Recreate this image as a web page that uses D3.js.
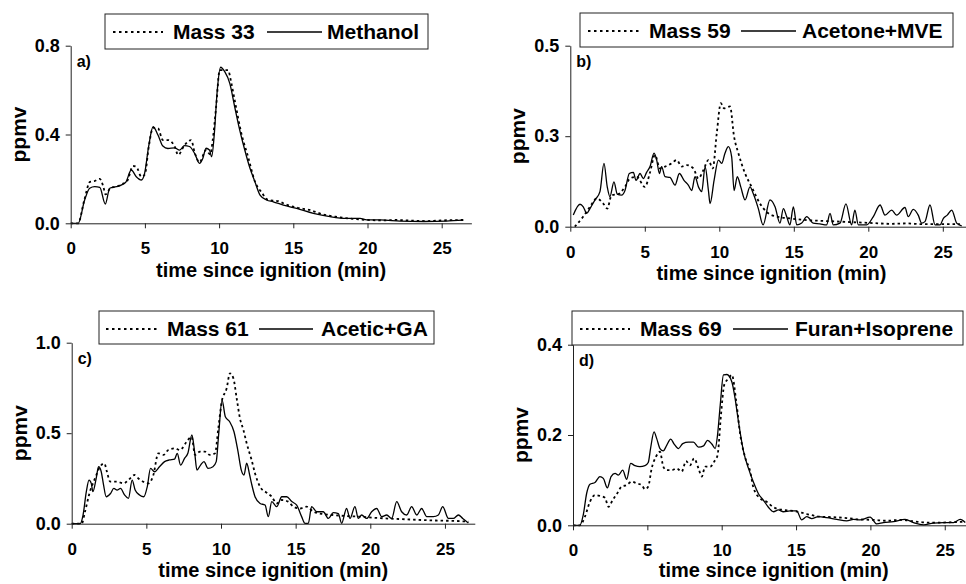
<!DOCTYPE html>
<html>
<head>
<meta charset="utf-8">
<script src="https://d3js.org/d3.v7.min.js"></script>
<style>
body{margin:0;background:#fff;}
text{font-family:"Liberation Sans",Arial,Helvetica,sans-serif;font-weight:bold;fill:#000;}
</style>
</head>
<body>
<svg id="chart" width="966" height="584"></svg>
<script>
// x = time since ignition (min), y = ppmv
var xTickValues = [0,5,10,15,20,25];
var xTickLabels = ["0","5","10","15","20","25"];

var yTicksA = [0,0.4,0.8],  yLabelsA = ["0.0","0.4","0.8"];
var yTicksB = [0,0.25,0.5], yLabelsB = ["0.0","0.3","0.5"];
var yTicksC = [0,0.5,1.0],  yLabelsC = ["0.0","0.5","1.0"];
var yTicksD = [0,0.2,0.4],  yLabelsD = ["0.0","0.2","0.4"];

// a) methanol
var methanol = [[0,0],[0.5,0],[0.94,0.105],[1.28,0.158],[1.62,0.165],[1.96,0.162],[2.33,0.087],[2.63,0.158],[3.07,0.165],[3.4,0.172],[3.73,0.187],[4.08,0.24],[4.42,0.21],[4.76,0.195],[4.98,0.225],[5.25,0.345],[5.55,0.435],[5.88,0.398],[6.21,0.348],[6.55,0.337],[7.0,0.34],[7.34,0.33],[7.67,0.35],[8.0,0.346],[8.35,0.315],[8.68,0.27],[8.9,0.292],[9.12,0.338],[9.35,0.33],[9.5,0.3],[9.68,0.405],[9.86,0.586],[10.1,0.703],[10.38,0.683],[10.72,0.63],[11.05,0.525],[11.39,0.42],[11.73,0.33],[12.07,0.25],[12.4,0.19],[12.76,0.127],[13.2,0.105],[13.65,0.097],[14.33,0.082],[15.23,0.067],[16.35,0.045],[17.47,0.03],[18.6,0.022],[19.5,0.022],[19.95,0.015],[20.85,0.015],[22.2,0.01],[23.8,0.008],[25.3,0.01],[26.45,0.014]];
var mass33 = [[0,0],[0.5,0],[0.9,0.1],[1.3,0.187],[1.6,0.19],[1.96,0.2],[2.2,0.165],[2.35,0.13],[2.7,0.16],[3.1,0.165],[3.4,0.175],[3.8,0.19],[4.2,0.258],[4.42,0.255],[4.76,0.21],[5.0,0.22],[5.25,0.34],[5.55,0.43],[5.88,0.428],[6.21,0.375],[6.55,0.375],[7.0,0.347],[7.24,0.308],[7.67,0.352],[8.12,0.375],[8.35,0.32],[8.68,0.275],[9.12,0.33],[9.4,0.31],[9.57,0.375],[9.8,0.525],[10.04,0.69],[10.38,0.69],[10.6,0.69],[10.83,0.63],[11.05,0.555],[11.5,0.405],[11.95,0.3],[12.42,0.187],[12.88,0.138],[13.3,0.105],[13.98,0.1],[14.5,0.085],[15.3,0.07],[16.1,0.06],[17.0,0.04],[18.0,0.028],[19.0,0.02],[20.0,0.015],[21.0,0.013],[22.0,0.015],[23.0,0.012],[24.0,0.01],[25.0,0.013],[26.5,0.015]];

// b) acetone + MVE
var acetoneMve = [[0.2,0.032],[0.65,0.062],[0.87,0.055],[1.1,0.037],[1.32,0.05],[1.66,0.074],[1.99,0.097],[2.26,0.175],[2.48,0.11],[2.66,0.083],[2.93,0.124],[3.15,0.09],[3.44,0.087],[3.67,0.1],[3.96,0.147],[4.23,0.15],[4.41,0.128],[4.68,0.147],[4.9,0.133],[5.12,0.15],[5.35,0.166],[5.62,0.203],[5.8,0.184],[5.98,0.147],[6.13,0.166],[6.36,0.138],[6.69,0.136],[7.03,0.115],[7.32,0.147],[7.63,0.128],[7.92,0.115],[8.15,0.1],[8.37,0.138],[8.6,0.11],[8.82,0.097],[9.05,0.166],[9.27,0.1],[9.38,0.064],[9.65,0.128],[9.94,0.184],[10.16,0.175],[10.38,0.203],[10.61,0.221],[10.83,0.193],[10.99,0.1],[11.21,0.138],[11.44,0.11],[11.73,0.074],[12.06,0.11],[12.29,0.09],[12.62,0.05],[12.94,0.005],[13.4,0.074],[13.74,0.055],[14.07,0.01],[14.3,0.05],[14.52,0.028],[14.74,0.005],[14.97,0.055],[15.2,0.005],[15.53,0.01],[15.87,0.028],[16.3,0.01],[16.75,0.008],[17.2,0.005],[17.43,0.037],[17.65,0.005],[18.1,0.01],[18.5,0.063],[18.88,0.005],[19.1,0.046],[19.33,0.005],[19.89,0.005],[20.34,0.028],[20.79,0.06],[21.12,0.032],[21.57,0.046],[21.9,0.032],[22.46,0.053],[22.68,0.028],[23.02,0.048],[23.35,0.032],[23.58,0.01],[23.8,0.014],[24.14,0.06],[24.48,0.005],[24.81,0.005],[25.04,0.023],[25.3,0.032],[25.6,0.046],[25.93,0.01],[26.27,0.002]];
var mass59 = [[0.3,0],[0.87,0.028],[1.32,0.055],[1.77,0.078],[2.21,0.064],[2.48,0.05],[2.77,0.087],[3.22,0.09],[3.67,0.11],[4.0,0.133],[4.45,0.138],[5.01,0.11],[5.35,0.15],[5.68,0.198],[6.02,0.161],[6.36,0.166],[6.8,0.175],[7.14,0.184],[7.48,0.166],[7.81,0.17],[8.26,0.161],[8.6,0.133],[8.93,0.156],[9.27,0.184],[9.56,0.161],[9.83,0.258],[10.1,0.341],[10.32,0.327],[10.72,0.332],[10.99,0.249],[11.28,0.203],[11.73,0.147],[12.17,0.11],[12.73,0.064],[13.17,0.041],[13.85,0.028],[14.74,0.023],[15.87,0.018],[16.97,0.016],[18.1,0.014],[19.21,0.012],[20.34,0.01],[21.46,0.008],[22.57,0.009],[23.69,0.007],[24.81,0.007],[26.15,0.007]];

// c) acetic acid + glycolaldehyde
var aceticGa = [[0,0],[0.56,0],[0.76,0.048],[0.98,0.177],[1.16,0.241],[1.31,0.223],[1.42,0.177],[1.64,0.25],[1.8,0.315],[1.97,0.29],[2.13,0.216],[2.31,0.149],[2.6,0.167],[2.82,0.195],[3.04,0.186],[3.27,0.195],[3.54,0.159],[3.8,0.14],[4.05,0.241],[4.25,0.186],[4.54,0.159],[4.83,0.149],[5.06,0.204],[5.28,0.306],[5.55,0.287],[5.88,0.315],[6.22,0.343],[6.55,0.352],[6.89,0.357],[7.07,0.389],[7.29,0.324],[7.56,0.361],[7.78,0.389],[8.05,0.49],[8.23,0.398],[8.39,0.296],[8.63,0.324],[8.86,0.343],[9.13,0.306],[9.46,0.315],[9.68,0.343],[9.84,0.49],[10.07,0.683],[10.29,0.591],[10.58,0.563],[10.87,0.508],[11.14,0.398],[11.36,0.296],[11.54,0.269],[11.72,0.334],[11.92,0.269],[12.05,0.22],[12.28,0.149],[12.62,0.112],[12.95,0.103],[13.17,0.039],[13.4,0.122],[13.73,0.094],[14.07,0.149],[14.4,0.149],[14.74,0.122],[15.07,0.103],[15.4,0.039],[15.63,0.002],[15.85,0.002],[16.07,0.094],[16.41,0.066],[16.85,0.066],[17.19,0.029],[17.52,0.061],[17.86,0.056],[18.08,0.002],[18.41,0.084],[18.64,0.029],[18.97,0.094],[19.2,0.029],[19.42,0.048],[19.76,0.029],[20.09,0.066],[20.43,0.084],[20.76,0.039],[21.1,0.048],[21.43,0.029],[21.77,0.122],[22.1,0.066],[22.44,0.048],[22.77,0.094],[23.11,0.048],[23.44,0.084],[23.78,0.039],[24.22,0.039],[24.56,0.048],[24.85,0.094],[25.23,0.029],[25.56,0.029],[25.9,0.048],[26.19,0.029],[26.57,0.004]];
var mass61 = [[0,0],[0.67,0],[0.89,0.066],[1.22,0.177],[1.56,0.25],[1.9,0.315],[2.19,0.333],[2.35,0.29],[2.58,0.232],[3.02,0.232],[3.47,0.223],[3.91,0.25],[4.2,0.269],[4.47,0.25],[4.8,0.232],[5.13,0.223],[5.47,0.269],[5.8,0.389],[6.14,0.38],[6.47,0.407],[6.92,0.416],[7.25,0.407],[7.7,0.453],[8.03,0.48],[8.26,0.38],[8.59,0.398],[8.93,0.398],[9.26,0.38],[9.6,0.389],[9.82,0.527],[10.05,0.674],[10.38,0.748],[10.6,0.831],[10.83,0.803],[11.05,0.693],[11.27,0.582],[11.5,0.518],[11.72,0.444],[12.05,0.352],[12.28,0.278],[12.62,0.204],[13.06,0.171],[13.4,0.149],[13.73,0.112],[14.07,0.131],[14.5,0.122],[14.85,0.094],[15.29,0.084],[15.74,0.094],[16.19,0.066],[16.85,0.053],[17.52,0.048],[18.41,0.042],[19.31,0.039],[20.2,0.033],[21.32,0.028],[22.44,0.024],[23.55,0.02],[24.67,0.017],[25.79,0.015],[26.57,0.011]];

// d) furan + isoprene
var furanIsoprene = [[0,0],[0.46,0],[0.69,0.023],[0.92,0.071],[1.14,0.091],[1.48,0.095],[1.81,0.108],[2.04,0.104],[2.31,0.083],[2.56,0.108],[2.83,0.115],[3.05,0.111],[3.34,0.122],[3.61,0.102],[3.88,0.137],[4.17,0.132],[4.5,0.13],[4.84,0.132],[5.06,0.139],[5.22,0.171],[5.45,0.207],[5.63,0.192],[5.85,0.17],[6.07,0.165],[6.3,0.177],[6.57,0.191],[6.8,0.18],[7.09,0.17],[7.38,0.181],[7.77,0.184],[8.1,0.184],[8.44,0.173],[8.78,0.176],[9.05,0.188],[9.34,0.18],[9.56,0.17],[9.72,0.2],[9.9,0.266],[10.12,0.333],[10.35,0.334],[10.68,0.318],[10.9,0.281],[11.13,0.229],[11.46,0.165],[11.8,0.126],[12.13,0.096],[12.47,0.07],[12.8,0.056],[13.14,0.04],[13.48,0.03],[13.81,0.034],[14.15,0.03],[14.6,0.032],[15.04,0.032],[15.38,0.012],[15.72,0.019],[16.05,0.015],[16.5,0.019],[17.06,0.017],[17.74,0.013],[18.41,0.01],[18.86,0.013],[19.3,0.012],[19.98,0.018],[20.43,0.003],[20.87,0.006],[21.55,0.008],[22.33,0.013],[22.9,0.006],[23.57,0.001],[24.24,0.005],[24.92,0.006],[25.59,0.006],[26.04,0.013],[26.38,0.006]];
var mass69 = [[0,0],[0.46,0],[0.8,0.019],[1.14,0.052],[1.48,0.067],[1.81,0.065],[2.15,0.061],[2.38,0.041],[2.67,0.056],[2.98,0.071],[3.27,0.086],[3.61,0.089],[3.95,0.097],[4.28,0.093],[4.62,0.089],[4.84,0.08],[5.06,0.086],[5.29,0.126],[5.58,0.152],[5.85,0.163],[6.07,0.13],[6.3,0.122],[6.64,0.122],[6.97,0.126],[7.31,0.119],[7.6,0.142],[7.87,0.133],[8.14,0.148],[8.44,0.126],[8.66,0.108],[8.89,0.13],[9.23,0.13],[9.56,0.145],[9.72,0.155],[9.95,0.244],[10.17,0.311],[10.46,0.325],[10.68,0.333],[10.98,0.274],[11.25,0.2],[11.58,0.15],[11.92,0.119],[12.12,0.085],[12.57,0.06],[13.02,0.052],[13.48,0.04],[14.15,0.034],[14.82,0.032],[15.72,0.025],[16.61,0.019],[17.51,0.018],[18.41,0.016],[19.3,0.013],[20.2,0.012],[21.1,0.01],[21.99,0.012],[22.9,0.009],[23.8,0.006],[24.69,0.006],[25.59,0.007],[26.38,0.008]];

// box = [x1,y1,x2,y2], leg = [dot start, dot end, text1, solid start, solid end, text2]
var panels = [
  {tag:"a)", massName:"Mass 33", compName:"Methanol", mass:mass33, comp:methanol,
   yMax:0.8, yTicks:yTicksA, yLabels:yLabelsA, left:70.7, per:14.84, top:45.7, bottom:223.3, titleDy:54,
   box:[105,14,428,49], leg:[113,163,173,267,322,327]},
  {tag:"b)", massName:"Mass 59", compName:"Acetone+MVE", mass:mass59, comp:acetoneMve,
   yMax:0.5, yTicks:yTicksB, yLabels:yLabelsB, left:570.3, per:14.9, top:45.7, bottom:226.7, titleDy:53,
   box:[580,13,953,47], leg:[588,640,649,741,796,802]},
  {tag:"c)", massName:"Mass 61", compName:"Acetic+GA", mass:mass61, comp:aceticGa,
   yMax:1.0, yTicks:yTicksC, yLabels:yLabelsC, left:71.7, per:14.93, top:342.7, bottom:523.7, titleDy:53,
   box:[99,311,434,344], leg:[106,157,167,259,313,321]},
  {tag:"d)", massName:"Mass 69", compName:"Furan+Isoprene", mass:mass69, comp:furanIsoprene,
   yMax:0.4, yTicks:yTicksD, yLabels:yLabelsD, left:573, per:14.87, top:344.7, bottom:525.3, titleDy:52,
   box:[572,311,963,345], leg:[580,630,640,733,788,795]}
];

var svg = d3.select("#chart");

panels.forEach(function(p){
  var x = d3.scaleLinear().domain([0,27]).range([p.left, p.left + 27*p.per]);
  var y = d3.scaleLinear().domain([0,p.yMax]).range([p.bottom, p.top]);
  var g = svg.append("g");

  var line = d3.line()
    .x(function(d){ return x(d[0]); })
    .y(function(d){ return y(d[1]); })
    .curve(d3.curveMonotoneX);

  g.append("path").datum(p.comp)
    .attr("d",line).attr("fill","none")
    .attr("stroke","#000").attr("stroke-width",1.3);

  g.append("path").datum(p.mass)
    .attr("d",line).attr("fill","none")
    .attr("stroke","#000").attr("stroke-width",1.8)
    .attr("stroke-dasharray","2.5,3");

  var xa = g.append("g")
    .attr("transform","translate(0,"+p.bottom+")")
    .call(d3.axisBottom(x).tickValues(xTickValues)
      .tickFormat(function(d,i){ return xTickLabels[i]; })
      .tickSize(5).tickSizeOuter(0));
  xa.attr("color","#222").attr("font-family",null);
  xa.selectAll("text").attr("y",31).attr("dy",null).style("font-size","17px");

  var ya = g.append("g")
    .attr("transform","translate("+p.left+",0)")
    .call(d3.axisLeft(y).tickValues(p.yTicks)
      .tickFormat(function(d,i){ return p.yLabels[i]; })
      .tickSize(5).tickSizeOuter(0));
  ya.attr("color","#222").attr("font-family",null);
  ya.selectAll("text").attr("x",-11).style("font-size","18px");

  g.append("text")
    .attr("x",(x(0)+x(27))/2).attr("y",p.bottom+p.titleDy)
    .attr("text-anchor","middle").style("font-size","20px")
    .text("time since ignition (min)");

  g.append("text")
    .attr("transform","translate("+(p.left-45)+","+((p.top+p.bottom)/2)+") rotate(-90)")
    .attr("text-anchor","middle").style("font-size","21px")
    .text("ppmv");

  g.append("text")
    .attr("x",p.left+6).attr("y",p.top+21)
    .style("font-size","16px")
    .text(p.tag);

  //legend
  var b = p.box, l = p.leg;
  g.append("rect")
    .attr("x",b[0]).attr("y",b[1])
    .attr("width",b[2]-b[0]).attr("height",b[3]-b[1])
    .attr("fill","#fff").attr("stroke","#222").attr("stroke-width",1);
  g.append("line")
    .attr("x1",l[0]).attr("x2",l[1]).attr("y1",b[1]+18).attr("y2",b[1]+18)
    .attr("stroke","#000").attr("stroke-width",1.8).attr("stroke-dasharray","2.5,3.5");
  g.append("text").attr("x",l[2]).attr("y",b[1]+25).style("font-size","21px").text(p.massName);
  g.append("line")
    .attr("x1",l[3]).attr("x2",l[4]).attr("y1",b[1]+18).attr("y2",b[1]+18)
    .attr("stroke","#000").attr("stroke-width",1.3);
  g.append("text").attr("x",l[5]).attr("y",b[1]+25).style("font-size","21px").text(p.compName);
});
</script>
</body>
</html>
